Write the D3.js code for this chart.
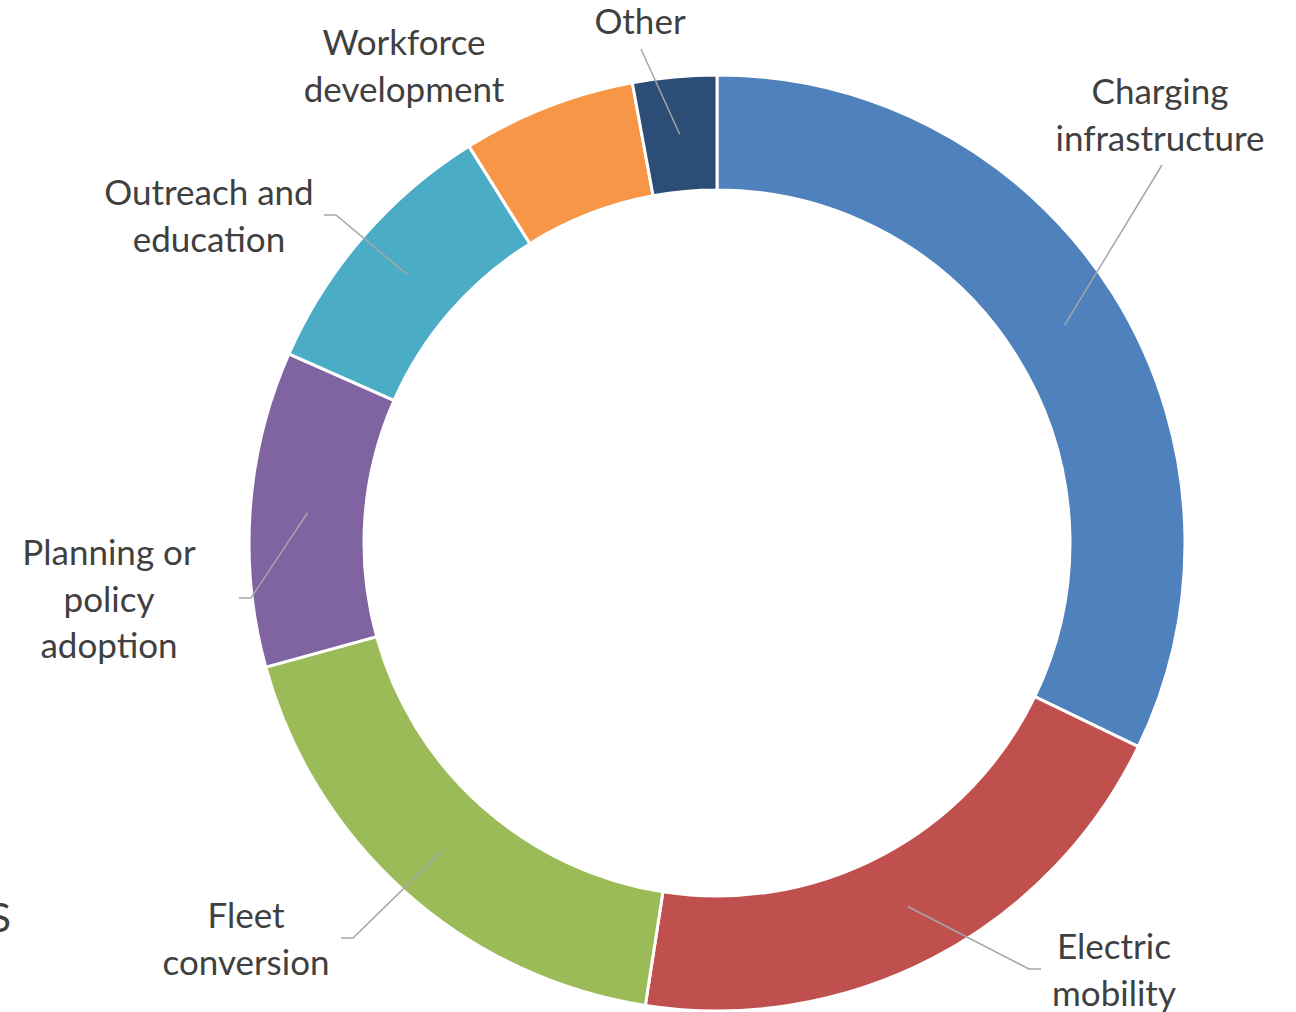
<!DOCTYPE html>
<html>
<head>
<meta charset="utf-8">
<script src="https://cdn.jsdelivr.net/npm/d3@7"></script>
<style>
  html, body { margin: 0; padding: 0; background: #fff; overflow: hidden; }
</style>
</head>
<body>
<div id="chart"></div>
<script>
// Share of projects by category (percent)
const categories = [
  'Charging infrastructure',
  'Electric mobility',
  'Fleet conversion',
  'Planning or policy adoption',
  'Outreach and education',
  'Workforce development',
  'Other'
];
const values = [32.2, 20.3, 18.3, 10.9, 9.5, 6.0, 2.9];
const labelLines = [
  ['Charging', 'infrastructure'],
  ['Electric', 'mobility'],
  ['Fleet', 'conversion'],
  ['Planning or', 'policy', 'adoption'],
  ['Outreach and', 'education'],
  ['Workforce', 'development'],
  ['Other']
];
const colors = ['#4F81BD', '#C0504D', '#9BBB59', '#8064A2', '#4BACC6', '#F79646', '#2C4D75'];

// label layout: text centre, leader end, horizontal tail direction
const labelLayout = [
  { x: 1160, y: 92,  end: [1162, 165], tail: 0 },
  { x: 1114, y: 947, end: [1029, 969], tail: 12 },
  { x: 246,  y: 916, end: [353, 938],  tail: -12 },
  { x: 109,  y: 553, end: [251, 598],  tail: -12 },
  { x: 209,  y: 193, end: [336, 215],  tail: -12 },
  { x: 404,  y: 43,  end: null,        tail: 0 },
  { x: 640,  y: 22,  end: [641, 49],   tail: 0 }
];

const width = 1296;
const height = 1012;
const cx = 717, cy = 543;
const outerR = 468, innerR = 353;
const lineH = 46.5;

const svg = d3.select('#chart')
  .append('svg')
  .attr('width', width)
  .attr('height', height)
  .style('font-family', 'Lato, "Noto Sans", sans-serif');

const g = svg.append('g')
  .attr('transform', `translate(${cx}, ${cy})`);

const data = categories.map((c, i) => ({ name: c, value: values[i], i }));

const pie = d3.pie()
  .value(d => d.value)
  .sort(null);

const arc = d3.arc()
  .innerRadius(innerR)
  .outerRadius(outerR);

const arcs = pie(data);

g.selectAll('path.slice')
  .data(arcs)
  .join('path')
  .attr('class', 'slice')
  .attr('d', arc)
  .attr('fill', d => colors[d.data.i])
  .attr('stroke', '#fff')
  .attr('stroke-width', 3);

// leader lines
arcs.forEach(d => {
  const lay = labelLayout[d.data.i];
  if (!lay.end) return;
  const [px, py] = arc.centroid(d);
  const pts = [[cx + px, cy + py], lay.end];
  if (lay.tail) pts.push([lay.end[0] + lay.tail, lay.end[1]]);
  svg.append('path')
    .attr('d', d3.line()(pts))
    .attr('fill', 'none')
    .attr('stroke', '#A6A6A6')
    .attr('stroke-width', 1.5);
});

// labels
arcs.forEach(d => {
  const lay = labelLayout[d.data.i];
  const lines = labelLines[d.data.i];
  const t = svg.append('text')
    .attr('text-anchor', 'middle')
    .attr('fill', '#404040')
    .style('font-size', '35px');
  lines.forEach((ln, k) => {
    t.append('tspan')
      .attr('x', lay.x)
      .attr('y', lay.y + k * lineH)
      .attr('dy', '0.35em')
      .text(ln);
  });
});

// clipped text at the left edge (cut off in the original too)
svg.append('text')
  .attr('x', 11)
  .attr('y', 932)
  .attr('text-anchor', 'end')
  .attr('fill', '#404040')
  .style('font-size', '40px')
  .text('S');
</script>
</body>
</html>
